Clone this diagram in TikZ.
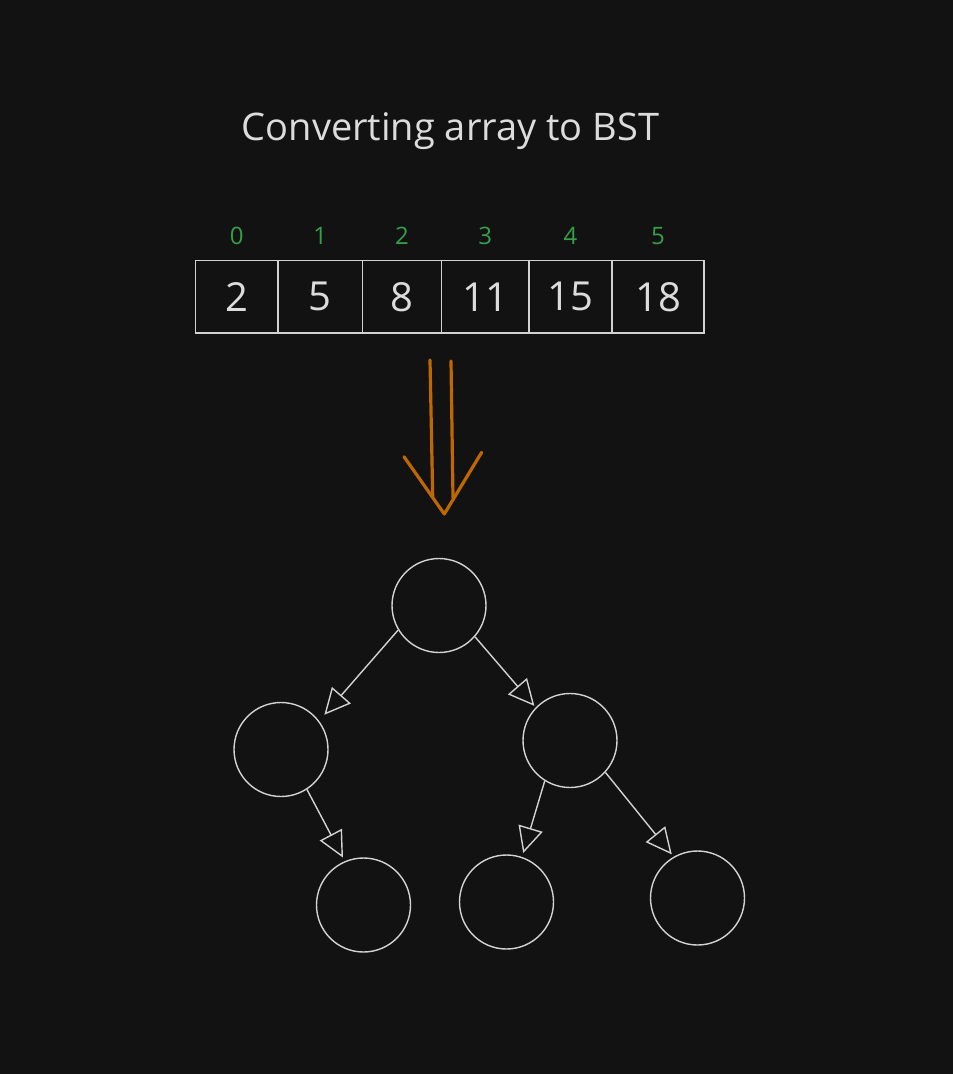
\documentclass[tikz,border=0pt]{standalone}
\usepackage{fontspec}
\setmainfont{Open Sans}
\usepackage{tikz}
\usetikzlibrary{arrows.meta}
\definecolor{bg}{HTML}{121212}
\definecolor{ink}{HTML}{DCDCDC}
\definecolor{stroke}{HTML}{D2D2D2}
\definecolor{idxgreen}{RGB}{52,160,72}
\definecolor{convorange}{RGB}{192,104,0}

\begin{document}
\begin{tikzpicture}
[x=1pt,y=-1pt]
\tikzset{
	cell/.style = {draw=stroke, line width=1.4pt, inner sep=0, minimum height=72.3pt, text=ink, font=\fontsize{40}{48}\selectfont},
	idx/.style = {text=idxgreen, inner sep=0, font=\fontsize{24}{28}\selectfont},
	vertex/.style = {circle, draw=stroke, line width=1.4pt, inner sep=0, minimum size=94pt},
	edge/.style = {draw=stroke, line width=1.4pt, -{Triangle[open,length=26pt,width=25pt]}},
	convert/.style = {draw=convorange, line width=3.2pt, line cap=round, line join=round}
}

\fill[bg] (0,0) rectangle (953,1074);

\node(title) [anchor=base, text=ink, font=\fontsize{38}{46}\selectfont] at (450.5,140) {Converting array to BST};

\node(c0) [cell, minimum width=82.5pt, label={[idx, label distance=15pt]above:0}] at (236.75,296.85) {2};
\node(c1) [cell, minimum width=84.5pt, label={[idx, label distance=15pt]above:1}] at (320.25,296.85) {5};
\node(c2) [cell, minimum width=79.2pt, label={[idx, label distance=15pt]above:2}] at (402.1,296.85) {8};
\node(c3) [cell, minimum width=87.1pt, label={[idx, label distance=15pt]above:3}] at (485.25,296.85) {11};
\node(c4) [cell, minimum width=83.2pt, label={[idx, label distance=15pt]above:4}] at (570.4,296.85) {15};
\node(c5) [cell, minimum width=92pt, label={[idx, label distance=15pt]above:5}] at (658,296.85) {18};

\draw [convert] (430,360) -- (432.7,496.7);
\draw [convert] (451,361) -- (453,498);
\draw [convert] (404,456.7) -- (444.3,514) -- (481.7,452.3);

\node(0) [vertex] at (439,605.5) {};
\node(0-1) [vertex] at (281,749.5) {};
\node(0-2) [vertex] at (570,740.5) {};
\node(0-1-1) [vertex] at (363.5,905) {};
\node(0-2-1) [vertex] at (506.5,902) {};
\node(0-2-2) [vertex] at (697.5,898) {};

\draw [edge, shorten >=8pt] (0.211) -- (0-1.37);
\draw [edge, shorten >=2pt] (0.319) -- (0-2.136);
\draw [edge, shorten >=4pt] (0-1.303) -- (0-1-1.113);
\draw [edge, shorten >=4pt] (0-2.238) -- (0-2-1.71);
\draw [edge, shorten >=3pt] (0-2.318) -- (0-2-2.120);
\end{tikzpicture}
\end{document}
